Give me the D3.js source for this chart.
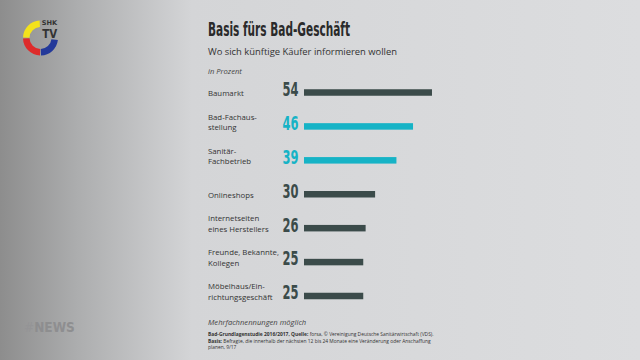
<!DOCTYPE html>
<html><head><meta charset="utf-8">
<script src="https://cdn.jsdelivr.net/npm/d3@7/dist/d3.min.js"></script>
<style>html,body{margin:0;padding:0;overflow:hidden;}svg{display:block;}</style>
</head><body>
<script>
const categories = ["Baumarkt", "Bad-Fachaus-\nstellung", "Sanitär-\nFachbetrieb", "Onlineshops", "Internetseiten\neines Herstellers", "Freunde, Bekannte,\nKollegen", "Möbelhaus/Ein-\nrichtungsgeschäft"];
const values = [54, 46, 39, 30, 26, 25, 25];
const highlighted = [false, true, true, false, false, false, false];
const title = "Basis fürs Bad-Geschäft";
const subtitle = "Wo sich künftige Käufer informieren wollen";
const unit = "in Prozent";
const note = "Mehrfachnennungen möglich";

const W = 640, H = 360;
const svg = d3.select("body").append("svg").attr("width", W).attr("height", H);
const defs = svg.append("defs");
const grad = defs.append("linearGradient").attr("id", "bg").attr("x1", "0").attr("x2", "1").attr("y1", "0").attr("y2", "0");
grad.append("stop").attr("offset", "0%").attr("stop-color", "#8d8d8d");
grad.append("stop").attr("offset", "12%").attr("stop-color", "#acadae");
grad.append("stop").attr("offset", "30%").attr("stop-color", "#d4d5d7");
grad.append("stop").attr("offset", "100%").attr("stop-color", "#dcdddf");
svg.append("rect").attr("width", W).attr("height", H).attr("fill", "url(#bg)");

const condensed = "'Liberation Sans Narrow','DejaVu Sans Condensed','Roboto',sans-serif";
const sans = "'Open Sans','Noto Sans',sans-serif";
const dark = "#3b4b4a", teal = "#16b3c6";

// Logo
const logo = svg.append("g").attr("transform", "translate(40.5,38)");
const arc = d3.arc().innerRadius(11).outerRadius(17.5);
const segs = [
  {s: -Math.PI/2 + 0.03, e: -0.05, c: "#f3e21c"},
  {s: Math.PI + 0.03, e: 1.5*Math.PI - 0.03, c: "#de2b2b"},
  {s: Math.PI/2 + 0.12, e: Math.PI - 0.03, c: "#23399a"}
];
logo.selectAll("path").data(segs).join("path")
  .attr("d", d => arc({startAngle: d.s, endAngle: d.e})).attr("fill", d => d.c);
logo.append("text").attr("x", 1.2).attr("y", -13).attr("font-family", "'DejaVu Sans',sans-serif")
  .attr("font-weight", "bold").attr("font-size", 6.5).attr("fill", "#333")
  .attr("textLength", 15.5).attr("lengthAdjust", "spacingAndGlyphs").text("SHK");
logo.append("text").attr("x", 1.8).attr("y", -0.5).attr("font-family", "'DejaVu Sans',sans-serif")
  .attr("font-weight", "bold").attr("font-size", 13).attr("fill", "#333")
  .attr("textLength", 15).attr("lengthAdjust", "spacingAndGlyphs").text("TV");

// #NEWS watermark
svg.append("text").attr("x", 24).attr("y", 332).attr("font-family", "'DejaVu Sans Condensed','DejaVu Sans',sans-serif")
  .attr("font-weight", "bold").attr("font-size", 13.5).attr("fill", "#8c8c8e").attr("opacity", 0.9)
  .call(t => { t.append("tspan").attr("font-weight", "normal").attr("fill", "#949496").text("#"); t.append("tspan").text("NEWS"); });

// Titles
svg.append("text").attr("x", 208).attr("y", 35.5).attr("font-family", condensed).attr("font-weight", "bold")
  .attr("font-size", 19).attr("fill", "#2a2a2a").attr("textLength", 142).attr("lengthAdjust", "spacingAndGlyphs").text(title);
svg.append("text").attr("x", 208).attr("y", 54.5).attr("font-family", sans).attr("font-size", 9.4)
  .attr("fill", "#333").attr("textLength", 189).attr("lengthAdjust", "spacingAndGlyphs").text(subtitle);
svg.append("text").attr("x", 208).attr("y", 74).attr("font-family", sans).attr("font-style", "italic")
  .attr("font-size", 7.6).attr("fill", "#444").text(unit);

// Scales
const y = d3.scalePoint().domain(categories).range([92.5, 296]);
const x = d3.scaleLinear().domain([0, 100]).range([304, 541]);
const barH = 6.5;

const rows = svg.append("g").selectAll("g").data(categories).join("g")
  .attr("transform", d => `translate(0,${y(d)})`);

rows.append("rect").attr("x", x(0)).attr("y", -barH/2).attr("height", barH)
  .attr("width", (d, i) => x(values[i]) - x(0)).attr("fill", (d, i) => highlighted[i] ? teal : dark);

rows.append("text").attr("x", 298.5).attr("y", 3.4).attr("text-anchor", "end")
  .attr("font-family", condensed).attr("font-weight", "bold").attr("font-size", 19)
  .attr("fill", (d, i) => highlighted[i] ? teal : dark)
  .attr("textLength", 16).attr("lengthAdjust", "spacingAndGlyphs")
  .text((d, i) => values[i]);

rows.each(function(d) {
  const lines = d.split("\n");
  const t = d3.select(this).append("text").attr("font-family", sans).attr("font-size", 7.8).attr("fill", "#333");
  lines.forEach((l, j) => {
    t.append("tspan").attr("x", 208).attr("y", 3.5 - (lines.length - 1 - j) * 10.2).text(l);
  });
});

// Footnotes
svg.append("text").attr("x", 208).attr("y", 325).attr("font-family", sans).attr("font-style", "italic")
  .attr("font-size", 7.6).attr("fill", "#444").text(note);
const src = svg.append("g").attr("font-family", sans).attr("font-size", 4.9).attr("fill", "#333");
const l1 = src.append("text").attr("x", 208).attr("y", 336);
l1.append("tspan").attr("font-weight", "bold").text("Bad-Grundlagenstudie 2016/2017, Quelle: ");
l1.append("tspan").text("forsa, © Vereinigung Deutsche Sanitärwirtschaft (VDS).");
const l2 = src.append("text").attr("x", 208).attr("y", 342.5);
l2.append("tspan").attr("font-weight", "bold").text("Basis: ");
l2.append("tspan").text("Befragte, die innerhalb der nächsten 12 bis 24 Monate eine Veränderung oder Anschaffung");
src.append("text").attr("x", 208).attr("y", 349).text("planen, 9/17");
</script>
</body></html>
